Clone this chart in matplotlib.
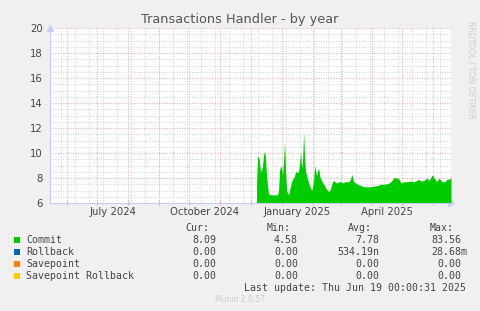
import numpy as np
import matplotlib
matplotlib.use('Agg')
import matplotlib.pyplot as plt
import matplotlib.dates as mdates
from matplotlib.patches import Rectangle

# commit transactions per second, daily averages
commit_dates = ['2024-12-07', '2024-12-08', '2024-12-09', '2024-12-10', '2024-12-11', '2024-12-12',
                '2024-12-13', '2024-12-14', '2024-12-15', '2024-12-16', '2024-12-17', '2024-12-18',
                '2024-12-19', '2024-12-22', '2024-12-25', '2024-12-28', '2024-12-29', '2024-12-30',
                '2024-12-31', '2025-01-01', '2025-01-02', '2025-01-03', '2025-01-04', '2025-01-05',
                '2025-01-06', '2025-01-07', '2025-01-08', '2025-01-09', '2025-01-10', '2025-01-11',
                '2025-01-12', '2025-01-13', '2025-01-14', '2025-01-15', '2025-01-16', '2025-01-17',
                '2025-01-18', '2025-01-19', '2025-01-20', '2025-01-21', '2025-01-22', '2025-01-23',
                '2025-01-24', '2025-01-25', '2025-01-26', '2025-01-27', '2025-01-28', '2025-01-29',
                '2025-01-30', '2025-01-31', '2025-02-01', '2025-02-02', '2025-02-03', '2025-02-04',
                '2025-02-05', '2025-02-06', '2025-02-07', '2025-02-08', '2025-02-09', '2025-02-10',
                '2025-02-11', '2025-02-12', '2025-02-13', '2025-02-14', '2025-02-15', '2025-02-16',
                '2025-02-17', '2025-02-18', '2025-02-19', '2025-02-20', '2025-02-21', '2025-02-22',
                '2025-02-23', '2025-02-25', '2025-02-27', '2025-03-01', '2025-03-03', '2025-03-05',
                '2025-03-07', '2025-03-09', '2025-03-10', '2025-03-11', '2025-03-12', '2025-03-13',
                '2025-03-14', '2025-03-16', '2025-03-18', '2025-03-21', '2025-03-24', '2025-03-27',
                '2025-03-31', '2025-04-03', '2025-04-07', '2025-04-10', '2025-04-13', '2025-04-17',
                '2025-04-20', '2025-04-22', '2025-04-23', '2025-04-25', '2025-04-27', '2025-04-29',
                '2025-04-30', '2025-05-03', '2025-05-06', '2025-05-10', '2025-05-13', '2025-05-16',
                '2025-05-18', '2025-05-20', '2025-05-23', '2025-05-26', '2025-05-28', '2025-05-31',
                '2025-06-01', '2025-06-02', '2025-06-05', '2025-06-07', '2025-06-10', '2025-06-13',
                '2025-06-15', '2025-06-18', '2025-06-19']
commit_vals = [7.4, 9.7, 9.7, 9.3, 8.5, 8.6,
               9.0, 9.8, 10.2, 9.6, 8.2, 7.4,
               6.7, 6.65, 6.65, 6.65, 7.0, 8.6,
               8.9, 8.9, 8.2, 9.5, 10.9, 8.5,
               7.0, 6.8, 6.65, 7.0, 7.4, 7.7,
               7.9, 8.0, 8.2, 8.5, 8.5, 8.4,
               8.6, 9.2, 10.1, 8.8, 9.5, 11.7,
               9.5, 8.5, 8.2, 7.9, 7.6, 7.4,
               7.2, 7.0, 7.3, 7.9, 9.0, 8.6,
               8.2, 8.6, 8.8, 8.2, 7.9, 7.8,
               7.6, 7.5, 7.4, 7.2, 7.1, 7.0,
               6.9, 7.0, 7.2, 7.5, 7.7, 7.8,
               7.7, 7.6, 7.7, 7.7, 7.6, 7.7,
               7.7, 7.7, 7.8, 8.0, 8.3, 8.0,
               7.7, 7.6, 7.5, 7.4, 7.3, 7.3,
               7.3, 7.35, 7.4, 7.5, 7.5, 7.55,
               7.7, 7.9, 8.05, 8.0, 8.0, 7.8,
               7.6, 7.7, 7.7, 7.75, 7.7, 7.8,
               7.9, 7.75, 7.8, 8.0, 7.8, 8.2,
               8.25, 8.0, 7.7, 8.0, 7.7, 7.7,
               7.9, 7.92, 8.09]

series = ['Commit', 'Rollback', 'Savepoint', 'Savepoint Rollback']
colors = ['#00cc00', '#0066b3', '#ff8000', '#ffcc00']
cur = ['8.09', '0.00', '0.00', '0.00']
mins = ['4.58', '0.00', '0.00', '0.00']
avgs = ['7.78', '534.19n', '0.00', '0.00']
maxs = ['83.56', '28.68m', '0.00', '0.00']

label_months = ['2024-07', '2024-10', '2025-01', '2025-04']
label_text = ['July 2024', 'October 2024', 'January 2025', 'April 2025']

W, H = 481, 311
def fx(x): return x / W
def fy(y): return 1 - y / H

fig = plt.figure(figsize=(W / 100, H / 100), dpi=100, facecolor='#f0f0f0')
ax = fig.add_axes([fx(50), fy(203), (451 - 50) / W, (203 - 28) / H])
ax.set_facecolor('white')

start = np.datetime64('2024-05-15')
end = np.datetime64('2025-06-19')
ax.set_xlim(mdates.date2num(start), mdates.date2num(end))
ax.set_ylim(6, 20)

# grid: gray minor, red major
gray = '#d2d2d2'
red = '#eaa8a8'
dots = (0, (1, 1.6))
for v in np.arange(6, 20.01, 0.5):
    if v % 2 != 0:
        ax.axhline(v, color=gray, lw=0.7, ls=dots, zorder=1)
for v in np.arange(8, 20.01, 2):
    ax.axhline(v, color=red, lw=0.7, ls=dots, zorder=2)

sundays = np.arange(np.datetime64('2024-05-26'), end, np.timedelta64(14, 'D'))
for d in sundays:
    ax.axvline(mdates.date2num(d), color=gray, lw=0.7, ls=dots, zorder=1)
month_starts = np.arange(np.datetime64('2024-06', 'M'), np.datetime64('2025-07', 'M')).astype('datetime64[D]')
for d in month_starts:
    ax.axvline(mdates.date2num(d), color=red, lw=0.7, ls=dots, zorder=2)

x = mdates.date2num(np.array(commit_dates, dtype='datetime64[D]'))
ax.fill_between(x, 0, commit_vals, color=colors[0], lw=0, zorder=3)

# tick labels centered mid-month like rrdtool
ax.set_xticks(mdates.date2num(month_starts))
ax.tick_params(axis='x', which='major', length=3, direction='inout', color=red, labelbottom=False)
mids = []
for m in label_months:
    m0 = np.datetime64(m, 'M')
    a = mdates.date2num(m0.astype('datetime64[D]'))
    b = mdates.date2num((m0 + 1).astype('datetime64[D]'))
    mids.append((a + b) / 2)
sec = ax.secondary_xaxis('bottom')
sec.set_xticks(mids, label_text)
sec.tick_params(length=0, pad=3, labelsize=7.3, labelcolor='#444444')
sec.spines['bottom'].set_visible(False)

ax.set_yticks(np.arange(6, 20.01, 2))
ax.tick_params(axis='y', length=0, pad=5, labelsize=7.3, labelcolor='#444444')

for s in ['top', 'right']:
    ax.spines[s].set_visible(False)
axis_col = '#c6cdf0'
ax.spines['left'].set_color(axis_col)
ax.spines['bottom'].set_color(axis_col)
ax.spines['left'].set_linewidth(0.8)
ax.spines['bottom'].set_linewidth(0.8)
ax.spines['bottom'].set_zorder(4)
ax.plot(0, 1, '^', transform=ax.transAxes, color=axis_col, ms=4, clip_on=False)
ax.plot(1, 0, '>', transform=ax.transAxes, color=axis_col, ms=4, clip_on=False)

fig.text(fx(240), fy(19), 'Transactions Handler - by year', ha='center', va='center',
         fontsize=9.3, color='#555555')
fig.text(fx(471), fy(70), 'RRDTOOL / TOBI OETIKER', rotation=270, ha='center', va='center',
         fontsize=5.5, color='#cccccc')

# legend table
mono = 'DejaVu Sans Mono'
fs = 7.1
tc = '#444444'
fig.text(fx(209), fy(228), 'Cur:', ha='right', va='center', fontsize=fs, color=tc, family=mono)
fig.text(fx(291), fy(228), 'Min:', ha='right', va='center', fontsize=fs, color=tc, family=mono)
fig.text(fx(372), fy(228), 'Avg:', ha='right', va='center', fontsize=fs, color=tc, family=mono)
fig.text(fx(454), fy(228), 'Max:', ha='right', va='center', fontsize=fs, color=tc, family=mono)
for i, name in enumerate(series):
    y = 240 + i * 12
    fig.patches.append(Rectangle((fx(14), fy(y + 3)), 6 / W, 6 / H, transform=fig.transFigure,
                                 facecolor=colors[i], edgecolor='none'))
    fig.text(fx(26.5), fy(y), name, ha='left', va='center', fontsize=fs, color=tc, family=mono)
    fig.text(fx(216), fy(y), cur[i], ha='right', va='center', fontsize=fs, color=tc, family=mono)
    fig.text(fx(298), fy(y), mins[i], ha='right', va='center', fontsize=fs, color=tc, family=mono)
    fig.text(fx(379), fy(y), avgs[i], ha='right', va='center', fontsize=fs, color=tc, family=mono)
    mx = maxs[i] if maxs[i][-1].isdigit() else maxs[i]
    fig.text(fx(461 if maxs[i][-1].isdigit() else 467), fy(y), mx, ha='right', va='center',
             fontsize=fs, color=tc, family=mono)
fig.text(fx(466), fy(288), 'Last update: Thu Jun 19 00:00:31 2025', ha='right', va='center',
         fontsize=fs, color=tc, family=mono)
fig.text(fx(240), fy(300), 'Munin 2.0.57', ha='center', va='center', fontsize=5.5, color='#cccccc')

fig.savefig('out.png', dpi=100, facecolor=fig.get_facecolor())
